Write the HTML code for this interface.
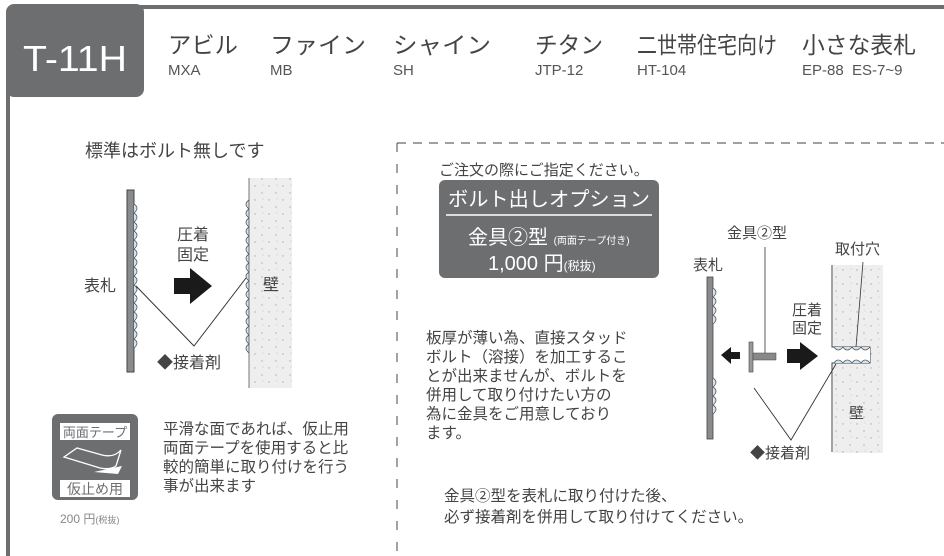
<!DOCTYPE html>
<html><head><meta charset="utf-8"><style>
body{margin:0;background:#fff;}
svg{display:block;font-family:"Liberation Sans","Noto Sans CJK JP",sans-serif;}
</style></head><body>
<svg width="944" height="556" viewBox="0 0 944 556">
<defs>
<pattern id="dots" width="14" height="14" patternUnits="userSpaceOnUse">
<rect width="14" height="14" fill="#eeeeee"/>
<circle cx="3" cy="4" r="0.7" fill="#aaa"/><circle cx="10" cy="11" r="0.7" fill="#aaa"/><circle cx="11" cy="3" r="0.5" fill="#bbb"/>
</pattern>
</defs>
<!-- header -->
<rect x="140" y="5" width="804" height="4" fill="#6d6e70"/>
<rect x="6" y="4" width="138" height="93" rx="8" fill="#6d6e70"/>
<rect x="6" y="90" width="4" height="466" fill="#6d6e70"/>
<text x="75" y="71" font-size="36" fill="#fff" text-anchor="middle" textLength="104" lengthAdjust="spacingAndGlyphs">T-11H</text>
<g fill="#444" font-size="23">
<text x="168" y="53" textLength="70" lengthAdjust="spacingAndGlyphs">アビル</text>
<text x="270" y="53" textLength="96" lengthAdjust="spacingAndGlyphs">ファイン</text>
<text x="393" y="53" textLength="98" lengthAdjust="spacingAndGlyphs">シャイン</text>
<text x="535" y="53" textLength="68" lengthAdjust="spacingAndGlyphs">チタン</text>
<text x="637" y="53" textLength="140" lengthAdjust="spacingAndGlyphs">二世帯住宅向け</text>
<text x="802" y="53" textLength="114" lengthAdjust="spacingAndGlyphs">小さな表札</text>
</g>
<g fill="#555" font-size="15">
<text x="168" y="75">MXA</text><text x="270" y="75">MB</text><text x="393" y="75">SH</text>
<text x="535" y="75">JTP-12</text><text x="637" y="75">HT-104</text><text x="802" y="75">EP-88 &#160;ES-7~9</text>
</g>
<!-- left diagram -->
<text x="85" y="157" font-size="18" fill="#444">標準はボルト無しです</text>
<rect x="127" y="190" width="7" height="182" fill="#8a8b8d" stroke="#444" stroke-width="1"/>
<g fill="#cfe3f0" stroke="#555" stroke-width="0.8">
<path d="M134 204 q6 4 0 9 q6 4 0 9 q6 4 0 9 q6 4 0 9 q6 4 0 9 q6 4 0 9 q6 4 0 9 q6 4 0 9 q6 4 0 9 q6 4 0 9 q6 4 0 9 q6 4 0 9 q6 4 0 9 q6 4 0 9 q6 4 0 9 q6 4 0 9"/>
<path d="M249 200 q-6 4 0 9 q-6 4 0 9 q-6 4 0 9 q-6 4 0 9 q-6 4 0 9 q-6 4 0 9 q-6 4 0 9 q-6 4 0 9 q-6 4 0 9 q-6 4 0 9 q-6 4 0 9 q-6 4 0 9 q-6 4 0 9 q-6 4 0 9 q-6 4 0 9 q-6 4 0 9 q-6 4 0 9"/>
</g>
<rect x="249" y="178" width="43" height="210" fill="url(#dots)"/>
<line x1="249" y1="178" x2="249" y2="388" stroke="#555" stroke-width="0.8"/>
<polyline points="136,286 194,346 246,278" fill="none" stroke="#333" stroke-width="1"/>
<text x="84" y="291" font-size="16" fill="#444">表札</text>
<text x="177" y="240" font-size="16" fill="#444">圧着</text>
<text x="177" y="260" font-size="16" fill="#444">固定</text>
<polygon points="174,278 190,278 190,268 212,286 190,304 190,294 174,294" fill="#1a1a1a"/>
<text x="263" y="290" font-size="16" fill="#444">壁</text>
<text x="157" y="368" font-size="16" fill="#444">◆接着剤</text>
<!-- tape icon -->
<rect x="52" y="414" width="86" height="86" rx="6" fill="#6d6e70"/>
<rect x="60" y="423" width="70" height="17" fill="#fff"/>
<text x="95" y="437" font-size="13" fill="#6d6e70" text-anchor="middle">両面テープ</text>
<rect x="60" y="480" width="70" height="17" fill="#fff"/>
<text x="95" y="494" font-size="14" fill="#6d6e70" text-anchor="middle">仮止め用</text>
<path d="M94 472 L118 474 L122 466 Z" fill="#fff"/>
<path d="M64 457 L77 448 L102 455 Q114 458 121 450 L116 466 Q110 470 100 468 Z" fill="none" stroke="#fff" stroke-width="1.3"/>
<text x="60" y="523" font-size="12" fill="#888">200 円<tspan font-size="9">(税抜)</tspan></text>
<g font-size="15.5" fill="#444">
<text x="163" y="434">平滑な面であれば、仮止用</text>
<text x="163" y="453">両面テープを使用すると比</text>
<text x="163" y="472">較的簡単に取り付けを行う</text>
<text x="163" y="491">事が出来ます</text>
</g>
<!-- dashed region -->
<line x1="397" y1="143" x2="944" y2="143" stroke="#666" stroke-width="1.2" stroke-dasharray="9,7"/>
<line x1="397" y1="143" x2="397" y2="556" stroke="#666" stroke-width="1.2" stroke-dasharray="9,12"/>
<text x="439" y="175" font-size="15" fill="#444">ご注文の際にご指定ください。</text>
<rect x="439" y="180" width="220" height="98" rx="6" fill="#6d6e70"/>
<text x="549" y="206" font-size="20" fill="#fff" text-anchor="middle" textLength="202" lengthAdjust="spacingAndGlyphs">ボルト出しオプション</text>
<line x1="446" y1="215" x2="652" y2="215" stroke="#fff" stroke-width="1.5"/>
<text x="468" y="244" font-size="20" fill="#fff">金具②型 <tspan font-size="10">(両面テープ付き)</tspan></text>
<text x="488" y="270" font-size="20" fill="#fff">1,000 円<tspan font-size="12">(税抜)</tspan></text>
<g font-size="15.5" fill="#444">
<text x="426" y="343">板厚が薄い為、直接スタッド</text>
<text x="426" y="362">ボルト（溶接）を加工するこ</text>
<text x="426" y="381">とが出来ませんが、ボルトを</text>
<text x="426" y="400">併用して取り付けたい方の</text>
<text x="426" y="419">為に金具をご用意しており</text>
<text x="426" y="438">ます。</text>
</g>
<text x="444" y="501" font-size="15.5" fill="#444">金具②型を表札に取り付けた後、</text>
<text x="444" y="522" font-size="15.5" fill="#444">必ず接着剤を併用して取り付けてください。</text>
<!-- right diagram -->
<text x="727" y="238" font-size="15" fill="#444">金具②型</text>
<text x="693" y="270" font-size="15" fill="#444">表札</text>
<text x="835" y="254" font-size="15" fill="#444">取付穴</text>
<rect x="707" y="277" width="6" height="162" fill="#8a8b8d" stroke="#444" stroke-width="0.8"/>
<g fill="#cfe3f0" stroke="#555" stroke-width="0.8">
<path d="M713 288 q6 4 0 9 q6 4 0 9 q6 4 0 9 q6 4 0 9"/>
<path d="M713 378 q6 4 0 9 q6 4 0 9 q6 4 0 9 q6 4 0 9"/>
</g>
<polygon points="721,355 731,347 731,352 740,352 740,359 731,359 731,364" fill="#1a1a1a"/>
<rect x="749" y="342" width="4" height="30" fill="#999" stroke="#444" stroke-width="0.6"/>
<rect x="753" y="353" width="23" height="7" fill="#888" stroke="#444" stroke-width="0.5"/>
<line x1="765" y1="247" x2="765" y2="353" stroke="#333" stroke-width="0.8"/>
<text x="792" y="315" font-size="15" fill="#444">圧着</text>
<text x="792" y="333" font-size="15" fill="#444">固定</text>
<polygon points="787,349 800,349 800,342 818,356 800,370 800,363 787,363" fill="#1a1a1a"/>
<rect x="833" y="265" width="50" height="188" fill="url(#dots)"/>
<path d="M832 265 V347 H870 V363 H832 V452" fill="none" stroke="#444" stroke-width="1"/>
<rect x="833" y="348" width="37" height="14" fill="#fff"/>
<g fill="#cfe3f0" stroke="#555" stroke-width="0.8">
<path d="M834 347 q4 6 9 0 q4 6 9 0 q4 6 9 0 q4 6 9 0"/>
<path d="M834 363 q4 -6 9 0 q4 -6 9 0 q4 -6 9 0 q4 -6 9 0"/>
</g>
<line x1="863" y1="262" x2="856" y2="347" stroke="#333" stroke-width="0.8"/>
<polyline points="754,388 791,440 836,364" fill="none" stroke="#333" stroke-width="0.9"/>
<text x="849" y="418" font-size="15" fill="#444">壁</text>
<text x="750" y="458" font-size="15" fill="#444">◆接着剤</text>
</svg>
</body></html>
